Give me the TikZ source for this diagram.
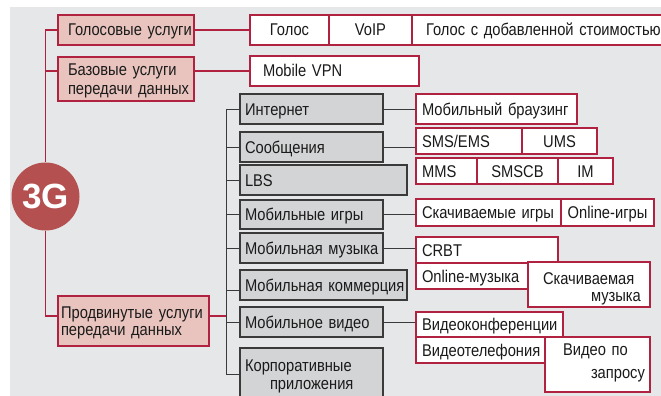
\documentclass[tikz,border=0pt]{standalone}
\usepackage{fontspec}
\setmainfont{Liberation Sans}[FakeStretch=0.865]
\newfontfamily\bigfont{Liberation Sans}
\usepackage{tikz}
\usetikzlibrary{positioning,backgrounds}
\definecolor{bgcol}{HTML}{E6E7E9}
\definecolor{pinkcol}{HTML}{E9C4BE}
\definecolor{redcol}{HTML}{B0223F}
\definecolor{circcol}{HTML}{B55050}
\definecolor{greycol}{HTML}{D3D4D6}
\definecolor{darkcol}{HTML}{3A3A3A}
\definecolor{txtcol}{HTML}{1A1A1A}

\begin{document}
\begin{tikzpicture}[
    x=1pt, y=-1pt,
    box/.style={rectangle, anchor=north west, outer sep=0pt, inner ysep=0pt, text height=12pt, text depth=0pt, text=txtcol, font=\fontsize{17}{18}\selectfont, line width=1.1pt},
    pinkbox/.style={box, draw=redcol, fill=pinkcol, inner xsep=10pt, align=left},
    greybox/.style={box, draw=darkcol, fill=greycol, inner xsep=5pt, align=left},
    cell/.style={box, draw=redcol, fill=white, inner xsep=6pt, align=left},
    ccell/.style={box, draw=redcol, fill=white, inner xsep=2pt, align=center},
    redline/.style={draw=redcol, line width=1.1pt},
    darkline/.style={draw=darkcol, line width=1pt}
]
\useasboundingbox (0,0) rectangle (661,396);

% 3G и группы услуг
\node[circle, fill=circcol, minimum size=68pt, inner sep=0pt, text=white, font=\bigfont\bfseries\fontsize{35}{35}\selectfont] (g3) at (45.5,196.5) {3G};
\node[pinkbox, text width=116pt, minimum height=30pt] (voice) at (58,15) {Голосовые~услуги};
\node[pinkbox, text width=116pt, minimum height=44pt, text depth=19pt, font=\fontsize{17}{19}\selectfont] (basic) at (58,57) {Базовые~услуги\\передачи~данных};
\node[pinkbox, inner xsep=3pt, text width=145pt, minimum height=50pt, text depth=17pt, font=\fontsize{17}{17}\selectfont] (adv) at (58,296) {Продвинутые~услуги\\передачи~данных};

% голос и базовые данные
\node[ccell, minimum width=79pt, minimum height=30pt] (voice1) at (250,15) {Голос};
\node[ccell, minimum width=83pt, minimum height=30pt, right=0pt of voice1] (voice2) {VoIP};
\node[cell, inner xsep=14pt, text width=255pt, minimum height=30pt, right=0pt of voice2] (voice3) {Голос~с~добавленной~стоимостью};
\node[cell, inner xsep=13pt, text width=143pt, minimum height=30pt] (vpn) at (250,56) {Mobile~VPN};

% продвинутые услуги
\node[greybox, text width=133pt, minimum height=30pt] (inet) at (240,94) {Интернет};
\node[greybox, text width=133pt, minimum height=30pt] (msg) at (240,132) {Сообщения};
\node[greybox, text width=157pt, minimum height=30pt] (lbs) at (240,165) {LBS};
\node[greybox, text width=133pt, minimum height=29pt] (games) at (240,200) {Мобильные~игры};
\node[greybox, text width=133pt, minimum height=30pt] (music) at (240,233) {Мобильная~музыка};
\node[greybox, text width=157pt, minimum height=30pt] (comm) at (240,270) {Мобильная~коммерция};
\node[greybox, text width=133pt, minimum height=30pt] (video) at (240,307) {Мобильное~видео};
\node[greybox, text width=133pt, minimum height=52pt, text depth=18pt] (corp) at (240,348) {Корпоративные\\\hspace*{25pt}приложения};

% сервисы
\node[cell, text width=149pt, minimum height=30pt] (brows) at (416,94) {Мобильный~браузинг};
\node[cell, text width=94pt, minimum height=26pt] (sms) at (416,128) {SMS/EMS};
\node[ccell, minimum width=75pt, minimum height=26pt, right=0pt of sms] (ums) {UMS};
\node[cell, text width=49pt, minimum height=26pt] (mms) at (416,158) {MMS};
\node[ccell, minimum width=81pt, minimum height=26pt, right=0pt of mms] (smscb) {SMSCB};
\node[ccell, minimum width=55pt, minimum height=26pt, right=0pt of smscb] (im) {IM};
\node[cell, text width=133pt, minimum height=27pt] (dlgames) at (416,199) {Скачиваемые~игры};
\node[ccell, minimum width=93pt, minimum height=27pt, right=0pt of dlgames] (olgames) {\mbox{Online-игры}};
\node[cell, text width=130pt, minimum height=26pt] (crbt) at (416,237) {CRBT};
\node[cell, text width=100pt, minimum height=26pt] (olmusic) at (416,263) {\mbox{Online-музыка}};
\node[cell, inner xsep=4pt, text width=114pt, minimum height=45pt, text height=16pt, text depth=16pt, font=\fontsize{17}{16.5}\selectfont] (dlmusic) at (528,262) {\hspace*{11pt}Скачиваемая\\\hspace*{59pt}музыка};
\node[cell, text width=135pt, minimum height=25pt] (vconf) at (416,312) {Видеоконференции};
\node[cell, text width=117pt, minimum height=26pt] (vphone) at (416,337) {Видеотелефония};
\node[cell, inner xsep=4pt, text width=97pt, minimum height=55pt, text depth=30pt, font=\fontsize{17}{23}\selectfont] (vod) at (545,337) {\hspace*{14pt}Видео~по\\\hspace*{42pt}запросу};

% линии
\begin{scope}[on background layer]
\fill[bgcol] (10,7) rectangle (661,396);
\draw[redline] (g3.north) |- (voice1.west);
\draw[redline] (g3.north |- vpn.west) -- (vpn.west);
\coordinate (jn) at (226,316);
\draw[redline] (g3.south) |- (jn);
\draw[darkline] (jn |- inet.west) -- (jn |- corp.west) -- (corp.west);
\foreach \n in {inet,msg,lbs,games,music,video}
  \draw[darkline] (jn |- \n.west) -- (\n.west);
\coordinate (commjn) at ([yshift=-5pt]comm.west);
\draw[darkline] (jn |- commjn) -- (commjn);
\foreach \a/\b in {inet/brows,msg/sms,games/dlgames,music/crbt,video/vconf}
  \draw[darkline] (\a.east) -- (\a.east -| \b.west);
\end{scope}

\end{tikzpicture}
\end{document}
